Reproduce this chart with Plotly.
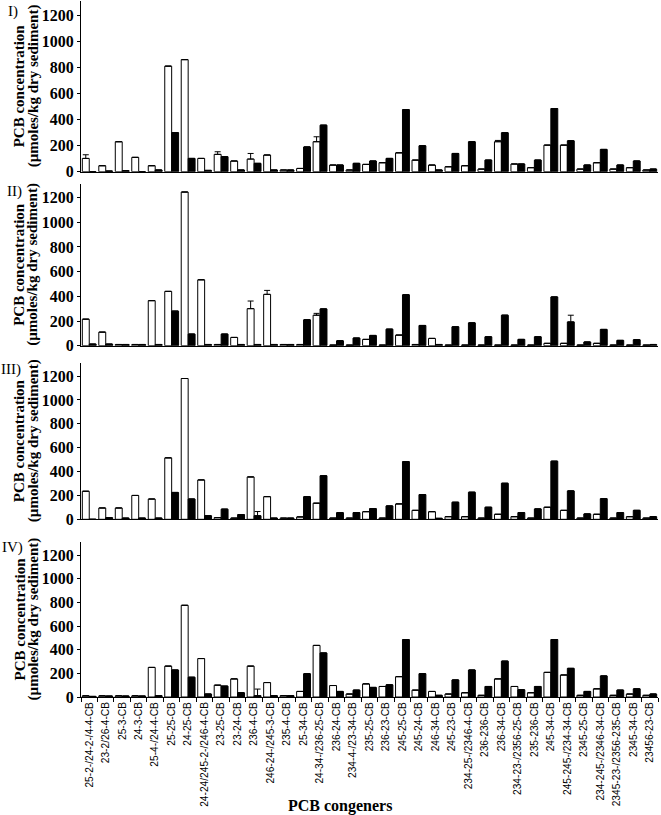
import plotly.graph_objects as go

cats = ["25-2-/24-2-/4-4-CB", "23-2/26-4-CB", "25-3-CB", "24-3-CB", "25-4-/24-4-CB",
        "25-25-CB", "24-25-CB", "24-24/245-2-/246-4-CB", "23-25-CB", "23-24-CB",
        "236-4-CB", "246-24-/245-3-CB", "235-4-CB", "25-34-CB", "24-34-/236-25-CB",
        "236-24-CB", "234-4-/23-34-CB", "235-25-CB", "236-23-CB", "245-25-CB",
        "245-24-CB", "246-34-CB", "245-23-CB", "234-25-/2346-4-CB", "236-236-CB",
        "236-34-CB", "234-23-/2356-25-CB", "235-236-CB", "245-34-CB", "245-245-/234-34-CB",
        "2345-25-CB", "234-245-/2346-34-CB", "2345-23-/2356-235-CB", "2345-34-CB", "23456-23-CB"]

I_white = [102, 46, 230, 110, 46, 810, 860, 102, 133, 82, 97, 128, 13, 25, 230, 51, 13, 56, 69, 145,
           89, 51, 38, 46, 20, 230, 59, 31, 204, 204, 20, 69, 20, 31, 13]
I_black = [0, 5, 8, 0, 13, 300, 102, 10, 115, 13, 64, 13, 13, 190, 357, 51, 64, 82, 102, 477,
           199, 13, 140, 230, 89, 299, 59, 89, 485, 237, 51, 171, 51, 82, 20]
I_white_err = [28, 0, 0, 0, 0, 0, 0, 0, 20, 0, 43, 0, 0, 0, 38, 0, 0, 0, 0, 0,
               0, 0, 0, 0, 0, 10, 0, 0, 0, 0, 0, 0, 0, 0, 0]
I_black_err = [0] * 35

II_white = [215, 110, 10, 10, 365, 440, 1245, 534, 10, 67, 300, 416, 10, 10, 247, 5, 5, 51, 5, 86,
            10, 59, 5, 5, 5, 5, 5, 5, 19, 19, 5, 19, 5, 5, 5]
II_black = [13, 13, 10, 10, 10, 280, 94, 10, 94, 10, 10, 10, 10, 210, 298, 40, 62, 83, 134, 413,
            164, 10, 153, 185, 72, 247, 51, 72, 395, 193, 30, 132, 43, 48, 10]
II_white_err = [0, 0, 0, 0, 0, 0, 0, 0, 0, 0, 62, 32, 0, 0, 15, 0, 0, 0, 0, 0,
                0, 0, 0, 0, 0, 0, 0, 0, 0, 0, 0, 0, 0, 0, 0]
II_black_err = [0, 0, 0, 0, 0, 0, 0, 0, 0, 0, 0, 0, 0, 0, 0, 0, 0, 0, 0, 0,
                0, 0, 0, 0, 0, 0, 0, 0, 0, 54, 0, 0, 0, 0, 0]

III_white = [235, 95, 95, 200, 170, 515, 1180, 330, 14, 10, 355, 190, 10, 20, 135, 10, 10, 64, 10, 129,
             75, 64, 22, 22, 10, 42, 22, 10, 101, 75, 10, 42, 10, 22, 10]
III_black = [0, 14, 10, 10, 10, 225, 170, 30, 85, 40, 30, 10, 10, 190, 365, 56, 56, 90, 112, 484,
             207, 8, 143, 227, 101, 302, 56, 87, 487, 238, 45, 173, 56, 75, 22]
III_white_err = [0] * 35
III_black_err = [0, 0, 0, 0, 0, 0, 0, 0, 0, 0, 35, 0, 0, 0, 0, 0, 0, 0, 0, 0,
                 0, 0, 0, 0, 0, 0, 0, 0, 0, 0, 0, 0, 0, 0, 0]

IV_white = [10, 10, 10, 10, 250, 261, 775, 325, 100, 153, 261, 122, 11, 47, 436, 97, 25, 111, 89, 172,
            58, 47, 25, 36, 14, 153, 89, 36, 208, 186, 14, 69, 14, 25, 14]
IV_black = [5, 8, 8, 8, 11, 228, 167, 25, 92, 36, 11, 11, 11, 197, 372, 47, 58, 81, 103, 486,
            197, 14, 144, 228, 89, 303, 61, 89, 486, 242, 47, 178, 58, 69, 25]
IV_white_err = [0] * 35
IV_black_err = [0, 0, 0, 0, 0, 0, 0, 0, 0, 0, 56, 0, 0, 0, 0, 0, 0, 0, 0, 0,
                0, 0, 0, 0, 0, 0, 0, 0, 0, 0, 0, 0, 0, 0, 0]

panel_labels = ["I)", "II)", "III)", "IV)"]
y_ticks = [0, 200, 400, 600, 800, 1000, 1200]

panels = [
    (I_white, I_black, I_white_err, I_black_err),
    (II_white, II_black, II_white_err, II_black_err),
    (III_white, III_black, III_white_err, III_black_err),
    (IV_white, IV_black, IV_white_err, IV_black_err),
]

W, H = 661, 815
ML, MR, MT, MB = 81, 3, 0, 118
PW, PH = W - ML - MR, H - MT - MB


def ax(px):
    return (px - ML) / PW


def ay(py):
    return 1 - (py - MT) / PH


dom_px = [(1, 171.7), (184, 345.7), (363, 519.3), (542, 697)]
label_pos = [(13, 12), (14, 191), (11, 369), (12, 547)]

fig = go.Figure()
layout = dict(
    width=W, height=H,
    margin=dict(l=ML, r=MR, t=MT, b=MB, autoexpand=False),
    paper_bgcolor="white", plot_bgcolor="white",
    barmode="group", bargap=0.16, bargroupgap=0,
    showlegend=False,
    annotations=[],
)

serif = "Liberation Serif"
for i, (wv, bv, we, be) in enumerate(panels):
    n = "" if i == 0 else str(i + 1)
    xa, ya = "x" + n, "y" + n
    fig.add_trace(go.Bar(
        x=cats, y=wv, xaxis=xa, yaxis=ya,
        marker=dict(color="white", line=dict(color="black", width=1)),
        error_y=dict(type="data", array=we, arrayminus=[0] * len(we), symmetric=False,
                     color="black", thickness=1, width=3),
    ))
    fig.add_trace(go.Bar(
        x=cats, y=bv, xaxis=xa, yaxis=ya,
        marker=dict(color="black", line=dict(color="black", width=1)),
        error_y=dict(type="data", array=be, arrayminus=[0] * len(be), symmetric=False,
                     color="black", thickness=1, width=3),
    ))
    top, bot = dom_px[i]
    last = (i == 3)
    layout["xaxis" + n] = dict(
        domain=[0, 1], anchor=ya, type="category", automargin=False,
        categoryorder="array", categoryarray=cats, range=[-0.5, len(cats) - 0.5],
        showline=True, linecolor="black", linewidth=1, showgrid=False, zeroline=False,
        ticks="outside" if last else "", tickson="boundaries", ticklen=4, tickcolor="black",
        showticklabels=last, tickangle=-90,
        tickfont=dict(family="Liberation Sans", size=10.2, color="black"),
    )
    layout["yaxis" + n] = dict(
        domain=[ay(bot), ay(top)], anchor=xa, range=[0, 1310], automargin=False,
        tickvals=y_ticks, ticktext=[str(t) for t in y_ticks],
        showline=True, linecolor="black", linewidth=1, showgrid=False, zeroline=False,
        ticks="outside", ticklen=3, tickcolor="black",
        tickfont=dict(family=serif, size=16, color="black", weight="bold"),
    )
    cy = ay((top + bot) / 2)
    layout["annotations"].append(dict(
        text="PCB concentration", x=ax(19), y=cy, xref="paper", yref="paper",
        textangle=-90, showarrow=False, xanchor="center", yanchor="middle",
        font=dict(family=serif, size=15, color="black", weight="bold")))
    layout["annotations"].append(dict(
        text="(µmoles/kg dry sediment)", x=ax(33), y=cy, xref="paper", yref="paper",
        textangle=-90, showarrow=False, xanchor="center", yanchor="middle",
        font=dict(family=serif, size=15, color="black", weight="bold")))
    lx, ly = label_pos[i]
    layout["annotations"].append(dict(
        text=panel_labels[i], x=ax(lx), y=ay(ly), xref="paper", yref="paper",
        showarrow=False, xanchor="center", yanchor="middle",
        font=dict(family=serif, size=15, color="black")))

layout["annotations"].append(dict(
    text="PCB congeners", x=ax(340), y=ay(806), xref="paper", yref="paper",
    showarrow=False, xanchor="center", yanchor="middle",
    font=dict(family=serif, size=16, color="black", weight="bold")))

fig.update_layout(**layout)
fig.write_html("out.html", config={"displayModeBar": False})

with open("out.html", "r", encoding="utf-8") as f:
    html = f.read()
html = html.replace("<head>", "<head><style>html,body{margin:0;padding:0;overflow:hidden;}</style>", 1)
with open("out.html", "w", encoding="utf-8") as f:
    f.write(html)
